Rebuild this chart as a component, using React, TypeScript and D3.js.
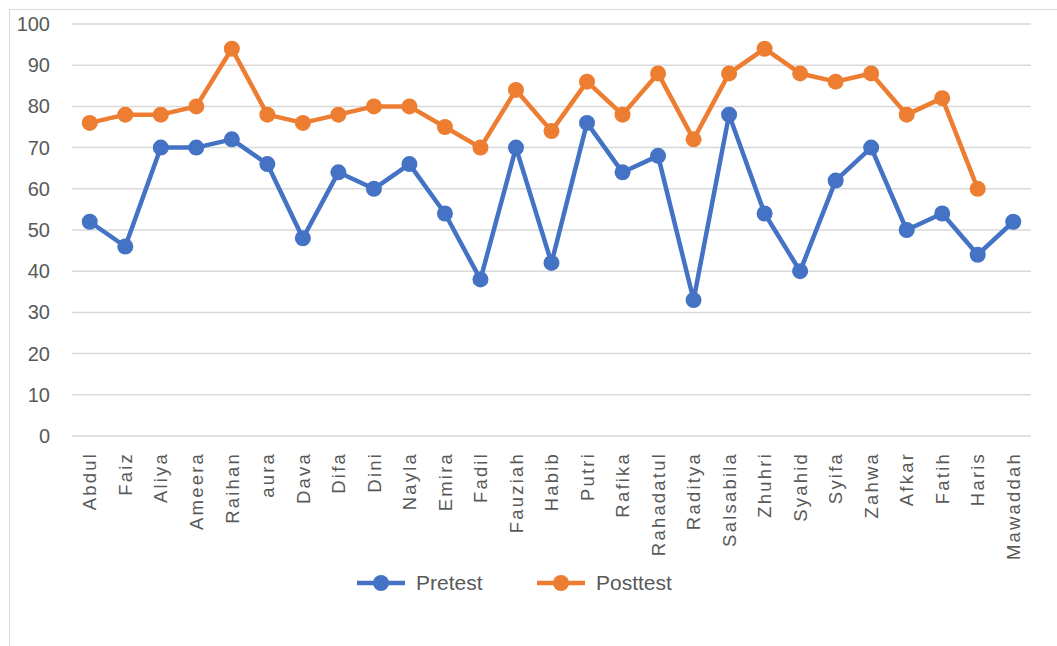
import React from "react";
import * as d3 from "d3";

const names = [
  "Abdul", "Faiz", "Aliya", "Ameera", "Raihan", "aura", "Dava", "Difa", "Dini", "Nayla",
  "Emira", "Fadil", "Fauziah", "Habib", "Putri", "Rafika", "Rahadatul", "Raditya", "Salsabila",
  "Zhuhri", "Syahid", "Syifa", "Zahwa", "Afkar", "Fatih", "Haris", "Mawaddah",
];
const pretest = [52, 46, 70, 70, 72, 66, 48, 64, 60, 66, 54, 38, 70, 42, 76, 64, 68, 33, 78, 54, 40, 62, 70, 50, 54, 44, 52];
const posttest = [76, 78, 78, 80, 94, 78, 76, 78, 80, 80, 75, 70, 84, 74, 86, 78, 88, 72, 88, 94, 88, 86, 88, 78, 82, 60, null];
const yTicks = [0, 10, 20, 30, 40, 50, 60, 70, 80, 90, 100];

const series = [
  { name: "Pretest", values: pretest, color: "#4472C4" },
  { name: "Posttest", values: posttest, color: "#ED7D31" },
];

export default function App() {
  const W = 1057;
  const H = 646;
  const plot = { left: 72, right: 1031, top: 24, bottom: 436 };
  const font = "'Liberation Sans', Arial, sans-serif";

  const x = d3.scaleBand().domain(names).range([plot.left, plot.right]);
  const y = d3.scaleLinear().domain([0, 100]).range([plot.bottom, plot.top]);
  const cx = (n: string) => (x(n) as number) + x.bandwidth() / 2;

  const legendX = [357, 537];

  return (
    <svg width={W} height={H} style={{ position: "absolute", left: 0, top: 0, background: "#fff" }}>
      <rect x={9.5} y={9.5} width={W + 20} height={H + 20} fill="#fff" stroke="#d9d9d9" strokeWidth={1} />

      {/* gridlines */}
      {yTicks.map((t) => (
        <line key={t} x1={plot.left} x2={plot.right} y1={y(t)} y2={y(t)} stroke="#d9d9d9" strokeWidth={1.5} />
      ))}

      {/* y tick labels */}
      {yTicks.map((t) => (
        <text key={t} x={50} y={y(t)} dy="0.35em" textAnchor="end" fontFamily={font} fontSize={20} fill="#595959">
          {t}
        </text>
      ))}

      {/* x labels */}
      {names.map((n) => (
        <text
          key={n}
          transform={`translate(${cx(n)},${plot.bottom + 16}) rotate(-90)`}
          dy="0.36em"
          textAnchor="end"
          fontFamily={font}
          fontSize={18.5}
          letterSpacing={2.2}
          fill="#595959"
        >
          {n}
        </text>
      ))}

      {/* series */}
      {series.map((s) => {
        const pts = names
          .map((n, i) => ({ n, v: s.values[i] }))
          .filter((p) => p.v !== null) as { n: string; v: number }[];
        const line = d3
          .line<{ n: string; v: number }>()
          .x((d) => cx(d.n))
          .y((d) => y(d.v));
        return (
          <g key={s.name}>
            <path d={line(pts) || ""} fill="none" stroke={s.color} strokeWidth={4.5} strokeLinejoin="round" />
            {pts.map((p) => (
              <circle key={p.n} cx={cx(p.n)} cy={y(p.v)} r={8} fill={s.color} />
            ))}
          </g>
        );
      })}

      {/* legend */}
      {series.map((s, i) => (
        <g key={s.name} transform={`translate(${legendX[i]},583)`}>
          <line x1={0} x2={48} y1={0} y2={0} stroke={s.color} strokeWidth={4.5} />
          <circle cx={24} cy={0} r={8} fill={s.color} />
          <text x={59} y={0} dy="0.35em" fontFamily={font} fontSize={21} fill="#595959">
            {s.name}
          </text>
        </g>
      ))}
    </svg>
  );
}
